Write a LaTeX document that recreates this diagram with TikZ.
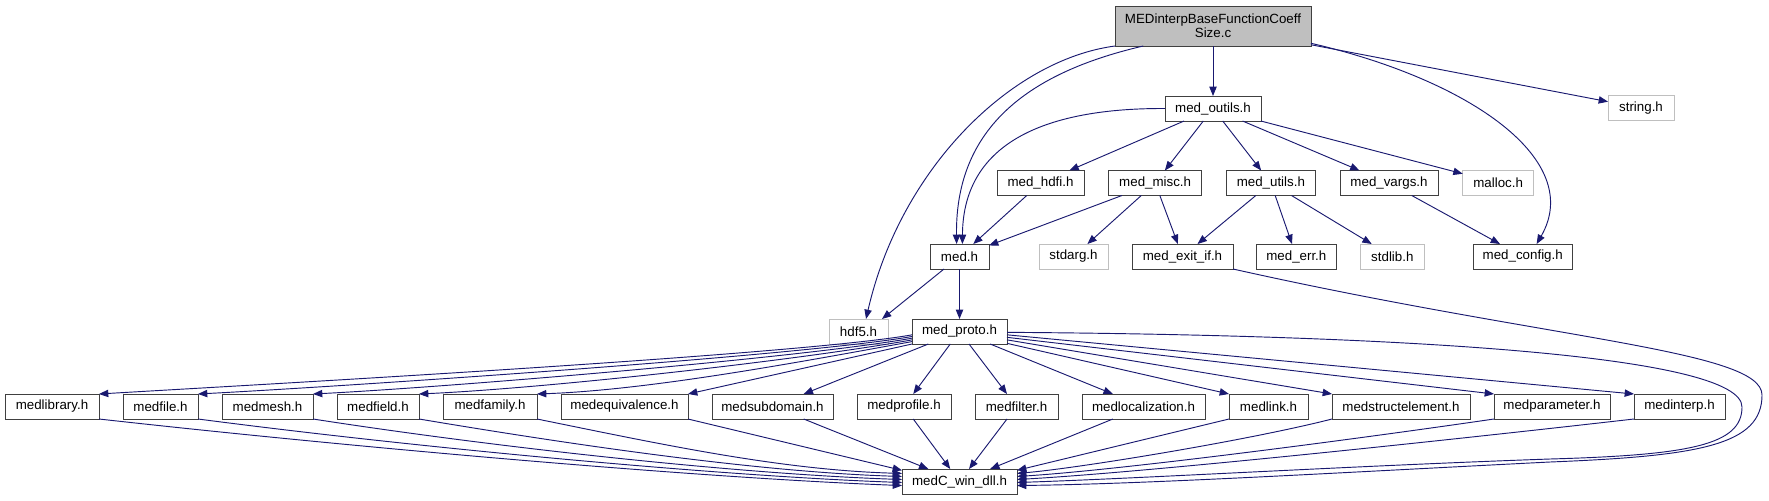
\documentclass[tikz,border=0pt]{standalone}
\usepackage{fontspec}
\setmainfont{Liberation Sans}
\usepackage{tikz}
\usetikzlibrary{arrows.meta, positioning}
\definecolor{edgeblue}{RGB}{25,25,112}
\definecolor{sysgray}{RGB}{191,191,191}
\definecolor{boxline}{RGB}{64,64,64}

\begin{document}
\begin{tikzpicture}[
    x=0.75pt, y=-0.75pt,
    hfile/.style={draw=boxline, line width=0.65pt, rectangle, minimum height=18.75pt, inner sep=0pt, outer sep=0pt, fill=white, font=\fontsize{10pt}{10.5pt}\selectfont},
    sysfile/.style={hfile, draw=sysgray},
    srcfile/.style={hfile, fill=sysgray, minimum height=30pt, align=center},
    dep/.style={draw=edgeblue, line width=0.7pt, -{Triangle[length=7pt,width=5.5pt]}}
]
\useasboundingbox (0,0) rectangle (1769,500);

% Source file and first level
\node[srcfile, minimum width=147pt] (src) at (1213,26) {MEDinterpBaseFunctionCoeff\\Size.c};
\node[hfile, minimum width=72pt] (outils) at (1213,108.5) {med\_outils.h};
\node[sysfile, minimum width=49.5pt] (string) at (1641,108) {string.h};

% Second level
\node[hfile, minimum width=65.25pt] (hdfi) at (1040.5,183) {med\_hdfi.h};
\node[hfile, minimum width=69.75pt, right=18.5pt of hdfi] (misc) {med\_misc.h};
\node[hfile, minimum width=66.75pt, right=18.5pt of misc] (utils) {med\_utils.h};
\node[hfile, minimum width=73.5pt, right=18.5pt of utils] (vargs) {med\_vargs.h};
\node[sysfile, minimum width=53.25pt, right=18.5pt of vargs] (malloc) {malloc.h};

% Third level
\node[hfile, minimum width=44.25pt] (med) at (959.5,256.5) {med.h};
\node[sysfile, minimum width=51.75pt, right=37.5pt of med] (stdarg) {stdarg.h};
\node[hfile, minimum width=75.75pt, right=18pt of stdarg] (exitif) {med\_exit\_if.h};
\node[hfile, minimum width=60pt, right=17.5pt of exitif] (err) {med\_err.h};
\node[sysfile, minimum width=48pt, right=18pt of err] (stdlib) {stdlib.h};
\node[hfile, minimum width=74.6pt, right=36.5pt of stdlib] (config) {med\_config.h};

% Fourth level
\node[hfile, minimum width=71.25pt] (proto) at (959.5,331.5) {med\_proto.h};
\node[sysfile, minimum width=44.25pt, left=18pt of proto] (hdf5) {hdf5.h};

% Fifth level
\node[hfile, minimum width=70.5pt] (lib) at (52,406.5) {medlibrary.h};
\node[hfile, minimum width=56.25pt, right=18pt of lib] (file) {medfile.h};
\node[hfile, minimum width=68.25pt, right=18pt of file] (mesh) {medmesh.h};
\node[hfile, minimum width=61.5pt, right=18pt of mesh] (field) {medfield.h};
\node[hfile, minimum width=70.5pt, right=18pt of field] (family) {medfamily.h};
\node[hfile, minimum width=95.25pt, right=18pt of family] (equiv) {medequivalence.h};
\node[hfile, minimum width=90.75pt, right=18pt of equiv] (subdomain) {medsubdomain.h};
\node[hfile, minimum width=70.5pt, right=18pt of subdomain] (profile) {medprofile.h};
\node[hfile, minimum width=62.25pt, right=18pt of profile] (filter) {medfilter.h};
\node[hfile, minimum width=92.25pt, right=18pt of filter] (local) {medlocalization.h};
\node[hfile, minimum width=59.25pt, right=18pt of local] (link) {medlink.h};
\node[hfile, minimum width=103.5pt, right=18pt of link] (struct) {medstructelement.h};
\node[hfile, minimum width=87pt, right=18pt of struct] (param) {medparameter.h};
\node[hfile, minimum width=68.25pt, right=18pt of param] (interp) {medinterp.h};

% Bottom
\node[hfile, minimum width=86.25pt] (medC) at (959.5,481.5) {medC\_win\_dll.h};

% From the source file
\draw[dep] (src) -- (outils);
\draw[dep] (src) -- (string);
\draw[dep] (src.-164) .. controls (1040,70) and (955,120) .. (med.103);
\draw[dep] (src.south west) .. controls (1010,60) and (900,170) .. (hdf5.59);
\draw[dep] (src.-10) .. controls (1470,80) and (1585,160) .. (config.42);

% From med_outils.h and the second level
\draw[dep] (outils.west) .. controls (1050,108) and (963,140) .. (med.77);
\draw[dep] (outils) -- (hdfi);
\draw[dep] (outils) -- (misc);
\draw[dep] (outils) -- (utils);
\draw[dep] (outils) -- (vargs);
\draw[dep] (outils) -- (malloc);
\draw[dep] (hdfi) -- (med);
\draw[dep] (misc) -- (med);
\draw[dep] (misc) -- (stdarg);
\draw[dep] (misc) -- (exitif);
\draw[dep] (utils) -- (exitif);
\draw[dep] (utils) -- (err);
\draw[dep] (utils) -- (stdlib);
\draw[dep] (vargs) -- (config);
\draw[dep] (med) -- (hdf5.28);
\draw[dep] (med) -- (proto);

% Long loops round the right side
\draw[dep] (exitif.south east) .. controls (1550,340) and (1762,350) .. (1762,395)
    .. controls (1762,445) and (1700,456) .. (1550,462)
    .. controls (1350,472) and (1150,484) .. (medC.-4);
\draw[dep] (proto.-1) .. controls (1400,335) and (1742,355) .. (1742,407)
    .. controls (1742,445) and (1690,455) .. (1550,459)
    .. controls (1350,466) and (1150,478) .. (medC.-1);

% med_proto.h to the fifth level
\draw[dep] (proto.184) .. controls (800,355) and (250,385) .. (lib.north east);
\draw[dep] (proto.186) .. controls (800,356) and (350,386) .. (file.north east);
\draw[dep] (proto.188) .. controls (800,358) and (450,387) .. (mesh.north east);
\draw[dep] (proto.190) .. controls (800,360) and (550,388) .. (field.north east);
\draw[dep] (proto.192) .. controls (800,362) and (650,390) .. (family.north east);
\draw[dep] (proto.south west) -- (equiv.north east);
\draw[dep] (proto) -- (subdomain);
\draw[dep] (proto) -- (profile);
\draw[dep] (proto) -- (filter);
\draw[dep] (proto) -- (local);
\draw[dep] (proto.-14) -- (link.north west);
\draw[dep] (proto.-10) -- (struct.north west);
\draw[dep] (proto.-7) -- (param.north west);
\draw[dep] (proto.-4) -- (interp.north west);

% Fifth level to medC_win_dll.h
\draw[dep] (lib.south east) .. controls (350,447) and (700,478) .. (medC.184);
\draw[dep] (file.south east) .. controls (420,448) and (720,476) .. (medC.181);
\draw[dep] (mesh.south east) .. controls (500,448) and (740,474) .. (medC.178);
\draw[dep] (field.south east) .. controls (580,446) and (760,472) .. (medC.175);
\draw[dep] (family.south east) .. controls (660,444) and (780,470) .. (medC.172);
\draw[dep] (equiv.south east) -- (medC.169);
\draw[dep] (subdomain) -- (medC);
\draw[dep] (profile) -- (medC);
\draw[dep] (filter) -- (medC);
\draw[dep] (local) -- (medC);
\draw[dep] (link.south west) -- (medC.11);
\draw[dep] (struct.south west) .. controls (1250,440) and (1080,468) .. (medC.8);
\draw[dep] (param.south west) .. controls (1350,440) and (1120,470) .. (medC.5);
\draw[dep] (interp.south west) .. controls (1450,440) and (1150,472) .. (medC.2);

\end{tikzpicture}
\end{document}
